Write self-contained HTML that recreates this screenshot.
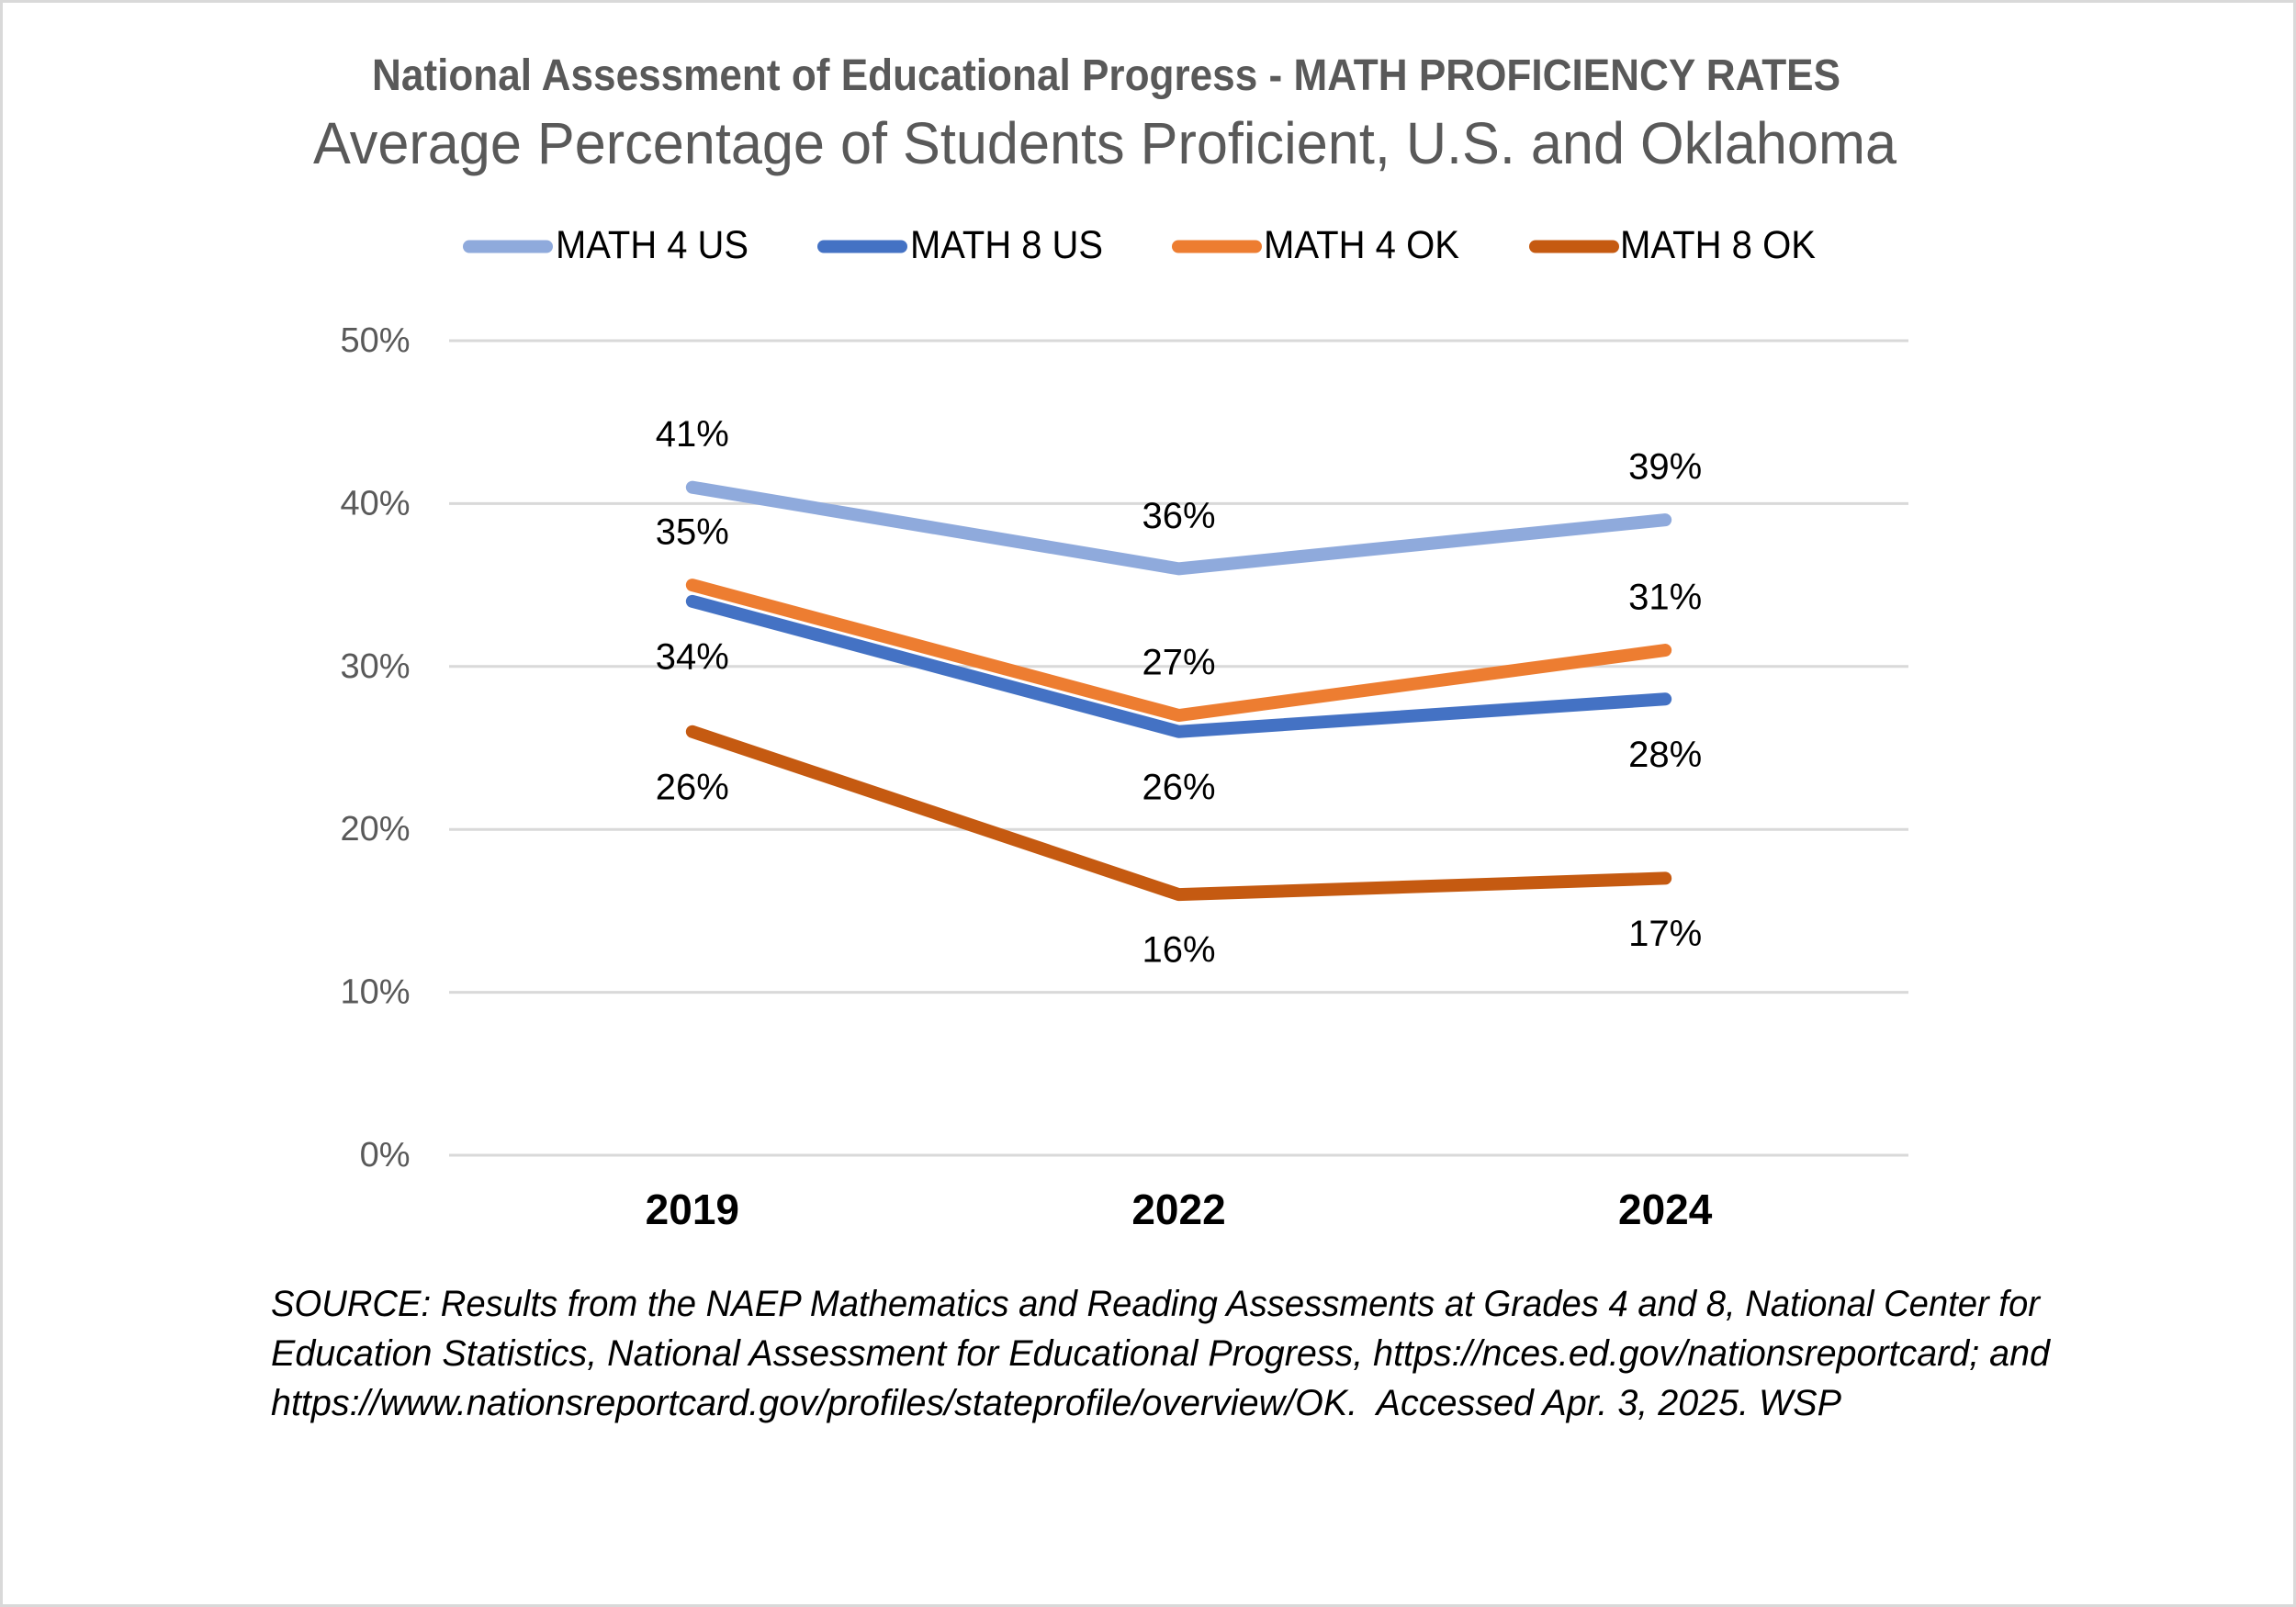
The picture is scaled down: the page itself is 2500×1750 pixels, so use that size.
<!DOCTYPE html>
<html lang="en">
<head>
<meta charset="utf-8">
<title>NAEP Math Proficiency Rates</title>
<style>
html,body{margin:0;padding:0;background:#fff;}
svg{display:block;}
text{font-family:"Liberation Sans",Arial,sans-serif;}
</style>
</head>
<body>
<svg id="chart" xmlns="http://www.w3.org/2000/svg" width="2500" height="1750" viewBox="0 0 2500 1750">
  <rect x="1.5" y="1.5" width="2497" height="1747" fill="#ffffff" stroke="#d9d9d9" stroke-width="3"/>

  <text x="405" y="98" font-size="48" font-weight="700" fill="#595959" textLength="1599" lengthAdjust="spacingAndGlyphs">National Assessment of Educational Progress - MATH PROFICIENCY RATES</text>
  <text x="341" y="178" font-size="64" fill="#595959" textLength="1724" lengthAdjust="spacingAndGlyphs">Average Percentage of Students Proficient, U.S. and Oklahoma</text>

  <g id="gridlines"></g>
  <g id="y-axis"></g>
  <g id="x-axis"></g>
  <g id="series"></g>
  <g id="labels"></g>

  <g font-size="43" fill="#000000">
    <g>
      <line x1="511" y1="268.5" x2="595" y2="268.5" stroke="#8faadc" stroke-width="14" stroke-linecap="round"/>
      <text x="605" y="281" textLength="210" lengthAdjust="spacingAndGlyphs">MATH 4 US</text>
    </g>
    <g>
      <line x1="897" y1="268.5" x2="981" y2="268.5" stroke="#4472c4" stroke-width="14" stroke-linecap="round"/>
      <text x="991" y="281" textLength="210" lengthAdjust="spacingAndGlyphs">MATH 8 US</text>
    </g>
    <g>
      <line x1="1283" y1="268.5" x2="1367" y2="268.5" stroke="#ed7d31" stroke-width="14" stroke-linecap="round"/>
      <text x="1376" y="281" textLength="213" lengthAdjust="spacingAndGlyphs">MATH 4 OK</text>
    </g>
    <g>
      <line x1="1672" y1="268.5" x2="1756" y2="268.5" stroke="#c55a11" stroke-width="14" stroke-linecap="round"/>
      <text x="1764" y="281" textLength="213" lengthAdjust="spacingAndGlyphs">MATH 8 OK</text>
    </g>
  </g>

  <g font-size="40" font-style="italic" fill="#000000">
    <text x="295" y="1433" textLength="1926" lengthAdjust="spacingAndGlyphs">SOURCE: Results from the NAEP Mathematics and Reading Assessments at Grades 4 and 8, National Center for</text>
    <text x="295" y="1487" textLength="1937" lengthAdjust="spacingAndGlyphs">Education Statistics, National Assessment for Educational Progress, https://nces.ed.gov/nationsreportcard; and</text>
    <text x="295" y="1541" textLength="1710" lengthAdjust="spacingAndGlyphs" xml:space="preserve">https://www.nationsreportcard.gov/profiles/stateprofile/overview/OK.  Accessed Apr. 3, 2025. WSP</text>
  </g>
</svg>

<script>
var categories = ["2019", "2022", "2024"];
var yTicks = [0, 10, 20, 30, 40, 50];
var math4Us = [41, 36, 39];
var math8Us = [34, 26, 28];
var math4Ok = [35, 27, 31];
var math8Ok = [26, 16, 17];

var NS = "http://www.w3.org/2000/svg";
var plotLeft = 489, plotRight = 2078, plotTop = 371, plotBottom = 1258, yMax = 50;

function xScale(i) {
  return plotLeft + (plotRight - plotLeft) * (i + 0.5) / categories.length;
}
function yScale(v) {
  return plotBottom - (plotBottom - plotTop) * v / yMax;
}
function make(tag, attrs, parent) {
  var el = document.createElementNS(NS, tag);
  for (var k in attrs) { el.setAttribute(k, attrs[k]); }
  parent.appendChild(el);
  return el;
}

var gridG = document.getElementById("gridlines");
var yG = document.getElementById("y-axis");
var xG = document.getElementById("x-axis");
var seriesG = document.getElementById("series");
var labelsG = document.getElementById("labels");

yTicks.forEach(function (t) {
  var line = make("line", {x1: plotLeft, x2: plotRight, y1: yScale(t), y2: yScale(t), stroke: "#d9d9d9", "stroke-width": 3}, gridG);
  
  
  var label = make("text", {x: 446.5, y: yScale(t) + 12, "text-anchor": "end", "font-size": 38, fill: "#595959"}, yG);
  
  
  label.textContent = t + "%";
});

categories.forEach(function (c, i) {
  var label = make("text", {x: xScale(i), y: 1333, "text-anchor": "middle", "font-size": 46, "font-weight": 700, fill: "#000000"}, xG);
  
  
  label.textContent = c;
});

function drawSeries(slug, values, color, labelOffset) {
  var pts = values.map(function (v, i) { return xScale(i) + "," + yScale(v); }).join(" ");
  var line = make("polyline", {points: pts, fill: "none", stroke: color, "stroke-width": 14, "stroke-linecap": "round", "stroke-linejoin": "round"}, seriesG);
  
  
  values.forEach(function (v, i) {
    var label = make("text", {x: xScale(i), y: yScale(v) + labelOffset, "text-anchor": "middle", "font-size": 40, fill: "#000000"}, labelsG);
    
    
    label.textContent = v + "%";
  });
}

drawSeries("math-4-us", math4Us, "#8faadc", -44.5);
drawSeries("math-8-us", math8Us, "#4472c4", 73.5);
drawSeries("math-4-ok", math4Ok, "#ed7d31", -44.5);
drawSeries("math-8-ok", math8Ok, "#c55a11", 73.5);
</script>
</body>
</html>
